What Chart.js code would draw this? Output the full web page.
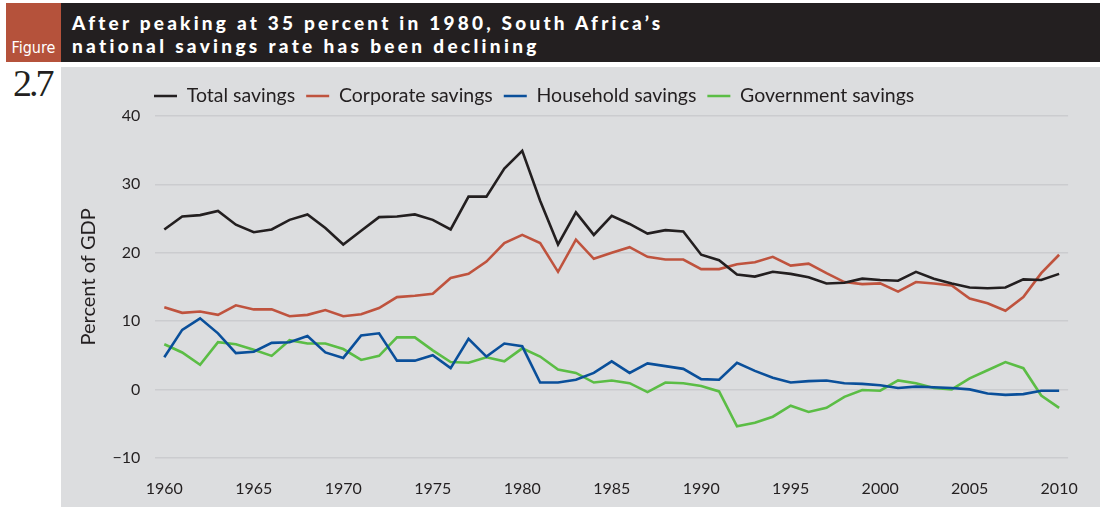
<!DOCTYPE html>
<html><head><meta charset="utf-8">
<script src="https://cdn.jsdelivr.net/npm/chart.js@4.4.1/dist/chart.umd.min.js"></script>
<style>
html,body{margin:0;padding:0;width:1100px;height:507px;overflow:hidden;background:#fff;position:relative}
#red{position:absolute;left:6px;top:3px;width:55px;height:59px;background:#b5523b}
#fig{position:absolute;left:6px;width:55px;top:39px;text-align:center;color:#fff;font:16px "DejaVu Sans Condensed","Liberation Sans Narrow",sans-serif;line-height:17px}
#bar{position:absolute;left:61px;top:3px;width:1039px;height:59px;background:#231f20}
.tl{position:absolute;left:72px;color:#fff;font:900 19px Lato,sans-serif;white-space:nowrap;line-height:20px}
#panel{position:absolute;left:61px;top:67px;width:1039px;height:440px;background:#dcdddf}
#num{position:absolute;left:13px;top:62px;font:38px "Liberation Serif",serif;letter-spacing:-3px;color:#231f20;line-height:42px}
#wrap{position:absolute;left:-34px;top:67px;width:1134px;height:440px}
</style></head>
<body>
<div id="red"></div><div id="fig">Figure</div>
<div id="bar"></div>
<div class="tl" id="t1" style="top:12.5px" data-w="591">After peaking at 35 percent in 1980, South Africa’s</div>
<div class="tl" id="t2" style="top:35.5px" data-w="468">national savings rate has been declining</div>
<div id="panel"></div>
<div id="num">2.7</div>
<div id="wrap"><canvas id="c"></canvas></div>
<script>
const years = [1960,1961,1962,1963,1964,1965,1966,1967,1968,1969,1970,1971,1972,1973,1974,1975,1976,1977,1978,1979,1980,1981,1982,1983,1984,1985,1986,1987,1988,1989,1990,1991,1992,1993,1994,1995,1996,1997,1998,1999,2000,2001,2002,2003,2004,2005,2006,2007,2008,2009,2010];
const xTickLabels = [1960,1965,1970,1975,1980,1985,1990,1995,2000,2005,2010];
const yTicks = [-10,0,10,20,30,40];
const totalSavings = [23.4,25.3,25.5,26.1,24.1,23.0,23.4,24.8,25.6,23.6, 21.2,23.2,25.2,25.3,25.6,24.8,23.4,28.2,28.2,32.3, 34.9,27.6,21.2,25.9,22.6,25.4,24.2,22.8,23.3,23.1, 19.7,18.9,16.8,16.5,17.2,16.9,16.4,15.5,15.6,16.2, 16.0,15.9,17.2,16.2,15.5,14.9,14.8,14.9,16.1,16.0,16.9];
const corporateSavings = [12.0,11.2,11.4,10.9,12.3,11.7,11.7,10.7,10.9,11.6, 10.7,11.0,11.9,13.5,13.7,14.0,16.3,16.9,18.7,21.4, 22.6,21.4,17.2,21.9,19.1,20.0,20.8,19.4,19.0,19.0, 17.6,17.6,18.3,18.6,19.4,18.1,18.4,17.0,15.7,15.4, 15.5,14.3,15.7,15.5,15.2,13.3,12.6,11.5,13.5,17.0,19.7];
const householdSavings = [4.7,8.7,10.4,8.2,5.3,5.5,6.8,6.9,7.8,5.4, 4.6,7.9,8.2,4.2,4.2,5.0,3.1,7.4,4.8,6.7, 6.3,1.0,1.0,1.4,2.4,4.1,2.4,3.8,3.4,3.0, 1.5,1.4,3.9,2.7,1.7,1.0,1.2,1.3,0.9,0.8, 0.6,0.2,0.4,0.3,0.2,0.0,-0.6,-0.8,-0.7,-0.2,-0.2];
const governmentSavings = [6.6,5.4,3.6,6.9,6.6,5.8,4.9,7.2,6.7,6.7, 5.9,4.3,4.9,7.6,7.6,5.7,4.0,3.9,4.7,4.1, 6.0,4.8,2.9,2.4,1.0,1.3,0.9,-0.4,1.0,0.9, 0.5,-0.3,-5.4,-4.9,-4.0,-2.4,-3.3,-2.7,-1.1,-0.1, -0.2,1.3,0.9,0.2,0.0,1.6,2.8,4.0,3.1,-0.9,-2.7];
const seriesNames = ['Total savings','Corporate savings','Household savings','Government savings'];
const seriesColors = ['#231f20','#bf533e','#0a4f9a','#5bbd45'];

document.querySelectorAll('.tl').forEach(el=>{
  const target = +el.dataset.w; const w = el.getBoundingClientRect().width;
  el.style.letterSpacing = ((target - w) / el.textContent.length) + 'px';
});

const ink = '#231f20';
const series = [totalSavings, corporateSavings, householdSavings, governmentSavings];
const legendFix = {
  id: 'legendFix',
  beforeLayout(chart) {
    const lg = chart.legend;
    if (lg && !lg._fixed) {
      const f = lg.fit.bind(lg);
      lg.fit = function(){ f(); this.height = 40.7; };
      lg._fixed = true;
    }
  },
  afterLayout(chart) {
    const lg = chart.legend;
    if (lg) { const w = lg.right - lg.left; lg.left = 177; lg.right = 177 + w; }
  }
};
new Chart(document.getElementById('c'), {
  type: 'line',
  data: {
    labels: years,
    datasets: series.map((d,i)=>({
      label: seriesNames[i], data: d, borderColor: seriesColors[i], backgroundColor: seriesColors[i],
      borderWidth: 2.6, pointRadius: 0, tension: 0, borderJoinStyle: 'miter', fill: false
    }))
  },
  plugins: [legendFix],
  options: {
    responsive: true, maintainAspectRatio: false, animation: false,
    layout: { padding: { left: 111, right: 31.75, top: 8.3, bottom: 7.3 } },
    plugins: {
      tooltip: { enabled: false },
      legend: {
        position: 'top', align: 'start',
        labels: { usePointStyle: true, pointStyle: 'line', pointStyleWidth: 23, padding: 11,
          color: ink, font: { family: 'Lato', size: 19.5 } }
      }
    },
    scales: {
      x: {
        type: 'category', offset: true,
        afterFit: s => { s.height = 42; },
        grid: { display: false, drawTicks: false }, border: { display: false },
        ticks: { autoSkip: false, maxRotation: 0, padding: 22, color: ink, font: { family: 'Lato', size: 16 },
          callback: function(v){ const y = this.getLabelForValue(v); return xTickLabels.includes(y) ? String(y) : ''; } }
      },
      y: {
        min: yTicks[0], max: yTicks[yTicks.length-1],
        afterBuildTicks: s => { s.ticks = yTicks.map(v=>({value:v})); },
        afterFit: s => { s.width = 78.35; },
        grid: { color: '#cbcccf', lineWidth: 1.6, drawTicks: false }, border: { display: false },
        ticks: { padding: 15, color: ink, font: { family: 'Lato', size: 16 },
          callback: v => v < 0 ? '\u2212' + Math.abs(v) : String(v) },
        title: { display: true, text: '\u2002\u2002Percent of GDP', color: ink, font: { family: 'Lato', size: 20 }, padding: { top: 0, bottom: 0 } }
      }
    }
  }
});
</script>
</body></html>
